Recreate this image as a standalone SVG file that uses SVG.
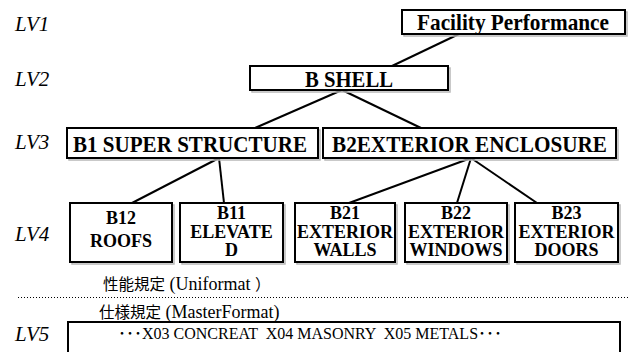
<svg xmlns="http://www.w3.org/2000/svg" width="629" height="352" viewBox="0 0 629 352">
  <defs>
    <style>
      .box { fill: #fff; stroke: #000; stroke-width: 2; }
      .shadow { fill: none; stroke: #b8b8b8; stroke-width: 1.5; }
      .lv { font-family: "Liberation Serif", "Times New Roman", serif; font-style: italic; font-size: 21px; fill: #000; }
      .t { font-family: "Liberation Serif", "Times New Roman", serif; font-weight: bold; font-size: 23px; fill: #000; text-anchor: middle; }
      .t4 { font-family: "Liberation Serif", "Times New Roman", serif; font-weight: bold; font-size: 18px; fill: #000; text-anchor: middle; }
      .note { font-family: "Liberation Serif", "Noto Sans CJK JP", serif; font-size: 18px; fill: #000; }
      .cjk { font-family: "Noto Sans CJK JP", sans-serif; font-size: 15.5px; }
      .spec { font-family: "Liberation Serif", "Noto Sans CJK JP", serif; font-size: 16px; fill: #000; text-anchor: middle; white-space: pre; }
      .conn { stroke: #000; stroke-width: 2; fill: none; }
      .dots { stroke: #000; stroke-width: 1; stroke-dasharray: 1 2; fill: none; }
    </style>
  </defs>

  <!-- level labels -->
  <g id="levels">
    <text class="lv" x="15" y="31">LV1</text>
    <text class="lv" x="15" y="86">LV2</text>
    <text class="lv" x="15" y="149">LV3</text>
    <text class="lv" x="15" y="241">LV4</text>
    <text class="lv" x="15" y="341">LV5</text>
  </g>

  <!-- connectors -->
  <g id="connectors">
    <line class="conn" x1="459" y1="34" x2="392" y2="66"/>
    <line class="conn" x1="342" y1="90" x2="255" y2="128"/>
    <line class="conn" x1="342" y1="90" x2="421" y2="128"/>
    <line class="conn" x1="219" y1="158" x2="132" y2="203"/>
    <line class="conn" x1="219" y1="158" x2="224" y2="203"/>
    <line class="conn" x1="471" y1="158" x2="349" y2="203"/>
    <line class="conn" x1="471" y1="158" x2="457" y2="203"/>
    <line class="conn" x1="471" y1="158" x2="537" y2="203"/>
  </g>

  <g id="facility">
    <rect class="shadow" x="404" y="12" width="223" height="24"/>
    <rect class="box" x="402" y="10" width="223" height="24"/>
    <text class="t" x="513" y="30" textLength="192" lengthAdjust="spacingAndGlyphs">Facility Performance</text>
  </g>

  <g id="b-shell">
    <rect class="shadow" x="252" y="68" width="198" height="24"/>
    <rect class="box" x="250" y="66" width="198" height="24"/>
    <text class="t" x="349" y="87" textLength="88" lengthAdjust="spacingAndGlyphs">B SHELL</text>
  </g>

  <g id="b1">
    <rect class="shadow" x="69" y="130" width="251" height="30"/>
    <rect class="box" x="67" y="128" width="251" height="30"/>
    <text class="t" x="190" y="152" textLength="234" lengthAdjust="spacingAndGlyphs">B1 SUPER STRUCTURE</text>
  </g>

  <g id="b2">
    <rect class="shadow" x="325" y="130" width="293" height="30"/>
    <rect class="box" x="323" y="128" width="293" height="30"/>
    <text class="t" x="469.5" y="152" textLength="275" lengthAdjust="spacingAndGlyphs">B2EXTERIOR ENCLOSURE</text>
  </g>

  <g id="b12">
    <rect class="shadow" x="72" y="205" width="102" height="59"/>
    <rect class="box" x="70" y="203" width="102" height="59"/>
    <text class="t4" x="121" y="224">B12</text>
    <text class="t4" x="121" y="247">ROOFS</text>
  </g>

  <g id="b11">
    <rect class="shadow" x="182" y="205" width="103" height="59"/>
    <rect class="box" x="180" y="203" width="103" height="59"/>
    <text class="t4" x="231.5" y="219">B11</text>
    <text class="t4" x="231.5" y="237.5">ELEVATE</text>
    <text class="t4" x="231.5" y="256">D</text>
  </g>

  <g id="b21">
    <rect class="shadow" x="297" y="205" width="100" height="59"/>
    <rect class="box" x="295" y="203" width="100" height="59"/>
    <text class="t4" x="345" y="219">B21</text>
    <text class="t4" x="345" y="237.5">EXTERIOR</text>
    <text class="t4" x="345" y="256">WALLS</text>
  </g>

  <g id="b22">
    <rect class="shadow" x="407" y="205" width="102" height="59"/>
    <rect class="box" x="405" y="203" width="102" height="59"/>
    <text class="t4" x="456" y="219">B22</text>
    <text class="t4" x="456" y="237.5">EXTERIOR</text>
    <text class="t4" x="456" y="256">WINDOWS</text>
  </g>

  <g id="b23">
    <rect class="shadow" x="517" y="205" width="103" height="59"/>
    <rect class="box" x="515" y="203" width="103" height="59"/>
    <text class="t4" x="566.5" y="219">B23</text>
    <text class="t4" x="566.5" y="237.5">EXTERIOR</text>
    <text class="t4" x="566.5" y="256">DOORS</text>
  </g>

  <!-- boundary between performance and specification levels -->
  <g id="boundary">
    <text class="note" x="103" y="290"><tspan class="cjk">性能規定</tspan> (Uniformat <tspan class="cjk">）</tspan></text>
    <line class="dots" x1="18" y1="297.5" x2="629" y2="297.5"/>
    <text class="note" x="99" y="318"><tspan class="cjk">仕様規定</tspan> (MasterFormat)</text>
  </g>

  <g id="lv5-spec">
    <rect class="box" x="68" y="322" width="552" height="40"/>
    <text class="spec" x="310" y="339">･･･X03 CONCREAT  X04 MASONRY  X05 METALS･･･</text>
  </g>
</svg>
